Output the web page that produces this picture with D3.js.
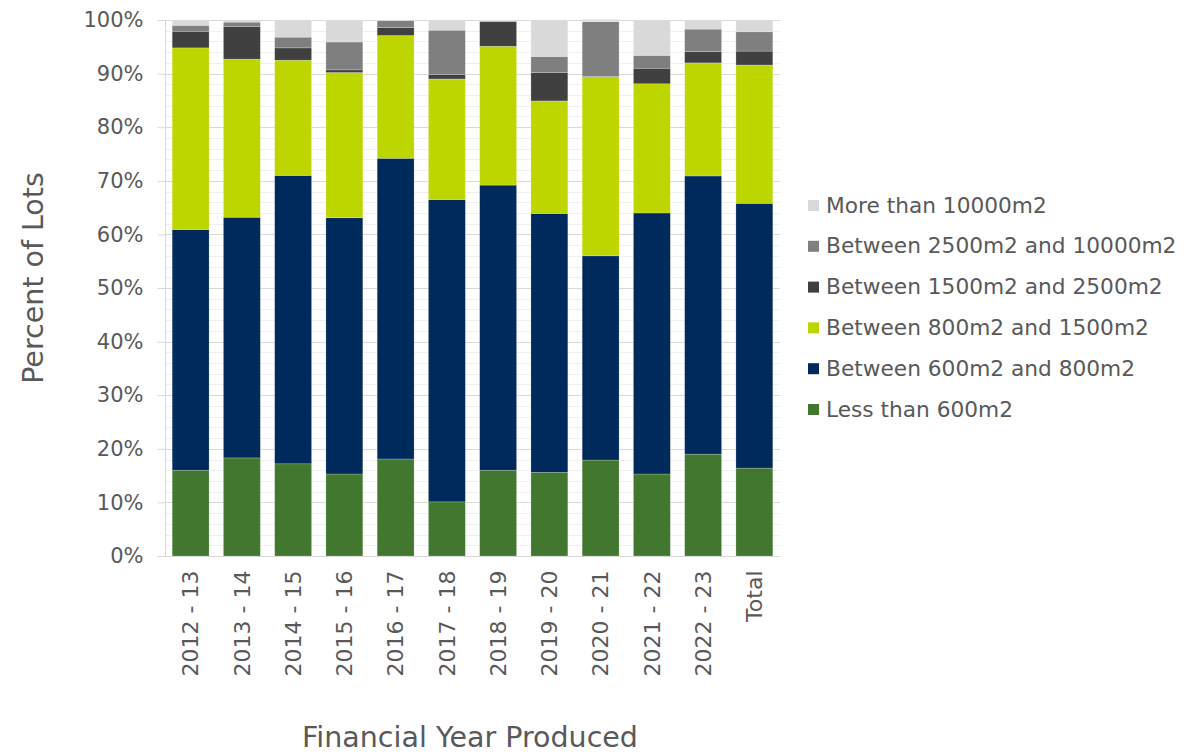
<!DOCTYPE html>
<html>
<head>
<meta charset="utf-8">
<title>Lot size by financial year</title>
<script src="https://cdnjs.cloudflare.com/ajax/libs/d3/7.8.5/d3.min.js"></script>
<style>
  body { margin: 0; background: #fff; }
  text { font-family: "DejaVu Sans", sans-serif; fill: #595959; }
</style>
</head>
<body>
<script>
var years = ["2012 - 13", "2013 - 14", "2014 - 15", "2015 - 16", "2016 - 17", "2017 - 18",
             "2018 - 19", "2019 - 20", "2020 - 21", "2021 - 22", "2022 - 23", "Total"];

// percent of lots in each size band, bottom to top
var lessThan600  = [16.0, 18.3, 17.2, 15.3, 18.1, 10.1, 16.0, 15.6, 17.9, 15.3, 19.0, 16.4];
var from600to800 = [44.9, 44.9, 53.8, 47.8, 56.1, 56.4, 53.2, 48.3, 38.1, 48.7, 51.9, 49.4];
var from800to1500 = [33.9, 29.5, 21.5, 27.1, 22.9, 22.5, 25.9, 21.0, 33.4, 24.1, 21.1, 25.8];
var from1500to2500 = [3.1, 6.1, 2.3, 0.5, 1.5, 0.8, 4.6, 5.3, 0.1, 2.9, 2.1, 2.6];
var from2500to10000 = [1.1, 0.8, 2.0, 5.2, 1.3, 8.3, 0.1, 3.0, 10.2, 2.4, 4.2, 3.6];
var moreThan10000 = [1.0, 0.4, 3.2, 4.1, 0.1, 1.9, 0.2, 6.8, 0.4, 6.6, 1.7, 2.2];

var seriesNames = ["Less than 600m2", "Between 600m2 and 800m2", "Between 800m2 and 1500m2",
                   "Between 1500m2 and 2500m2", "Between 2500m2 and 10000m2", "More than 10000m2"];
var seriesValues = [lessThan600, from600to800, from800to1500, from1500to2500, from2500to10000, moreThan10000];
var colors = ["#41772f", "#002a5c", "#bed600", "#404040", "#7f7f7f", "#d9d9d9"];

var yTicks = d3.range(0, 101, 10);

var W = 1198, H = 754;
var plotLeft = 165, plotRight = 780, plotTop = 20, plotBottom = 556;

var svg = d3.select("body").append("svg")
    .attr("width", W)
    .attr("height", H);

var x = d3.scaleBand()
    .domain(years)
    .range([plotLeft, plotRight])
    .paddingInner(0.28)
    .paddingOuter(0.14);

var y = d3.scaleLinear()
    .domain([0, 100])
    .range([plotBottom, plotTop]);

// minor gridlines every 2%
svg.append("g").selectAll("line")
    .data(d3.range(2, 100, 2).filter(function(d) { return d % 10 != 0; }))
    .enter().append("line")
    .attr("x1", plotLeft).attr("x2", plotRight)
    .attr("y1", function(d) { return Math.round(y(d)) + 0.5; })
    .attr("y2", function(d) { return Math.round(y(d)) + 0.5; })
    .attr("stroke", "#efefef")
    .attr("stroke-width", 1);

// major gridlines
svg.append("g").selectAll("line")
    .data(yTicks.slice(1))
    .enter().append("line")
    .attr("x1", plotLeft).attr("x2", plotRight)
    .attr("y1", function(d) { return Math.round(y(d)) + 0.5; })
    .attr("y2", function(d) { return Math.round(y(d)) + 0.5; })
    .attr("stroke", "#d9d9d9")
    .attr("stroke-width", 1);

// stack the series
var table = years.map(function(yr, i) {
    var row = { year: yr };
    seriesNames.forEach(function(s, j) { row[s] = seriesValues[j][i]; });
    return row;
});
var stacked = d3.stack().keys(seriesNames)(table);

svg.append("g").selectAll("g")
    .data(stacked)
    .enter().append("g")
    .attr("fill", function(d, i) { return colors[i]; })
    .selectAll("rect")
    .data(function(d) { return d; })
    .enter().append("rect")
    .attr("x", function(d) { return x(d.data.year); })
    .attr("y", function(d) { return y(d[1]); })
    .attr("width", x.bandwidth())
    .attr("height", function(d) { return y(d[0]) - y(d[1]); })
    .attr("stroke", "#ffffff")
    .attr("stroke-opacity", 0.35)
    .attr("stroke-width", 0.6);

// y axis
var yAxis = svg.append("g")
    .attr("transform", "translate(" + (plotLeft + 0.5) + ",0)")
    .call(d3.axisLeft(y).tickValues(yTicks).tickFormat(function(d) { return d + "%"; })
        .tickSize(8).tickPadding(14));
yAxis.select(".domain").attr("stroke", "#d9d9d9").attr("d", "M0," + plotTop + "V" + plotBottom);
yAxis.selectAll(".tick line").attr("stroke", "#d9d9d9");
yAxis.selectAll(".tick text")
    .attr("font-size", 21)
    .style("font-family", "'DejaVu Sans', sans-serif")
    .attr("fill", "#595959");

// x axis
var xAxis = svg.append("g")
    .attr("transform", "translate(0," + (plotBottom + 0.5) + ")")
    .call(d3.axisBottom(x).tickSize(0));
xAxis.select(".domain").attr("stroke", "#d9d9d9").attr("d", "M" + (plotLeft - 8) + ",0H" + plotRight);
xAxis.selectAll(".tick text")
    .attr("font-size", 22)
    .style("font-family", "'DejaVu Sans', sans-serif")
    .attr("fill", "#595959")
    .attr("transform", "rotate(-90)")
    .attr("text-anchor", "end")
    .attr("x", -14)
    .attr("y", 0)
    .attr("dy", "0.35em");

// axis titles
svg.append("text")
    .attr("transform", "translate(43,278) rotate(-90)")
    .attr("text-anchor", "middle")
    .attr("font-size", 28.5)
    .text("Percent of Lots");

svg.append("text")
    .attr("x", 470)
    .attr("y", 747)
    .attr("text-anchor", "middle")
    .attr("font-size", 28.5)
    .text("Financial Year Produced");

// legend, top entry is the last series
var legend = svg.append("g").selectAll("g")
    .data(seriesNames.slice().reverse())
    .enter().append("g")
    .attr("transform", function(d, i) { return "translate(808," + (205 + i * 40.8) + ")"; });

legend.append("rect")
    .attr("x", 0).attr("y", -5)
    .attr("width", 11).attr("height", 11)
    .attr("fill", function(d) { return colors[seriesNames.indexOf(d)]; });

legend.append("text")
    .attr("x", 18)
    .attr("y", 0)
    .attr("dy", "0.35em")
    .attr("font-size", 21.7)
    .text(function(d) { return d; });
</script>
</body>
</html>
